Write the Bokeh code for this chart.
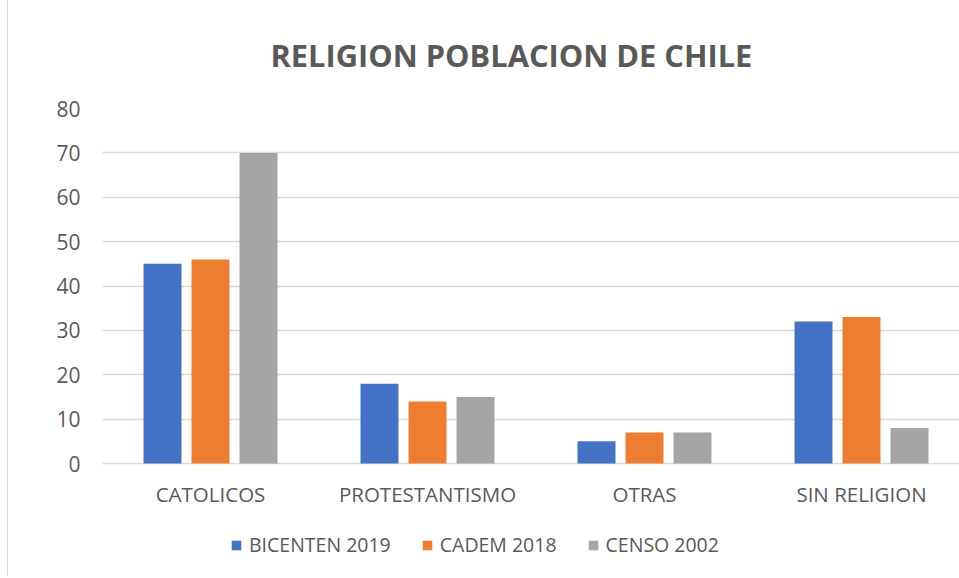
from bokeh.plotting import figure
from bokeh.models import (ColumnDataSource, Range1d, FixedTicker, Legend, LegendItem,
                          Title)
from bokeh.core.properties import value
from bokeh.embed import file_html
from bokeh.resources import INLINE

# ---- data ----
categories = ["CATOLICOS", "PROTESTANTISMO", "OTRAS", "SIN RELIGION"]
series_names = ["BICENTEN 2019", "CADEM 2018", "CENSO 2002"]
bicenten_2019 = [45, 18, 5, 32]
cadem_2018 = [46, 14, 7, 33]
censo_2002 = [70, 15, 7, 8]
y_ticks = [0, 10, 20, 30, 40, 50, 60, 70, 80]
title_text = "RELIGION POBLACION DE CHILE"

# ---- style ----
colors = ["#4472C4", "#ED7D31", "#A5A5A5"]
text_color = "#595959"
grid_color = "#d9d9d9"
font = "Open Sans"
offsets = [-0.2212, 0.0, 0.2212]
bar_width = 0.175
px_per_unit = 355 / 80.0            # vertical scale of the plot area
label_drop = 30 / px_per_unit       # category labels sit below the zero line
bottom_space = 113 / px_per_unit    # room below zero for labels and legend

p = figure(width=951, height=576, output_backend="svg", toolbar_location=None,
           x_range=Range1d(-0.4977, 3.4516),
           y_range=Range1d(-bottom_space, 80),
           min_border_left=94, min_border_right=0, min_border_top=108,
           min_border_bottom=0, outline_line_color=None, title=None)
p.styles = {"margin-left": "8px", "box-shadow": "-1px 0 0 0 #d9d9d9"}

idx = list(range(len(categories)))
series_values = [bicenten_2019, cadem_2018, censo_2002]
renderers = []
for vals, col, off in zip(series_values, colors, offsets):
    src = ColumnDataSource(dict(x=[i + off for i in idx], top=vals))
    r = p.vbar(x="x", top="top", bottom=0, width=bar_width, source=src,
               fill_color=col, line_color=None)
    renderers.append(r)

# category labels (category axis)
cat_src = ColumnDataSource(dict(x=idx, y=[-label_drop] * len(idx), text=categories))
p.text(x="x", y="y", text="text", source=cat_src, text_align="center",
       text_baseline="middle", text_font=value(font), text_font_size="20.5px",
       text_color=text_color)

p.xaxis.visible = False

p.yaxis.ticker = FixedTicker(ticks=y_ticks)
p.yaxis.major_tick_line_color = None
p.yaxis.minor_tick_line_color = None
p.yaxis.axis_line_color = None
p.yaxis.major_label_standoff = 16
p.yaxis.major_label_text_font = font
p.yaxis.major_label_text_font_size = "21px"
p.yaxis.major_label_text_color = text_color

p.xgrid.visible = False
p.ygrid.grid_line_color = grid_color
p.ygrid.grid_line_width = 1.5

# title
p.add_layout(Title(text=title_text, align="left", offset=168,
                   vertical_align="middle", standoff=63,
                   text_font=font, text_font_style="bold",
                   text_font_size="30.8px", text_color=text_color), "above")

# legend
items = [LegendItem(label=n, renderers=[r]) for n, r in zip(series_names, renderers)]
legend = Legend(items=items, orientation="horizontal", location=(128, 18),
                glyph_width=12, glyph_height=12, label_standoff=7, spacing=30,
                padding=0, margin=0, border_line_color=None,
                background_fill_alpha=0, label_height=26,
                label_text_font=font, label_text_font_size="19.5px",
                label_text_color=text_color)
p.add_layout(legend, "center")

open("out.html", "w").write(file_html(p, INLINE))
